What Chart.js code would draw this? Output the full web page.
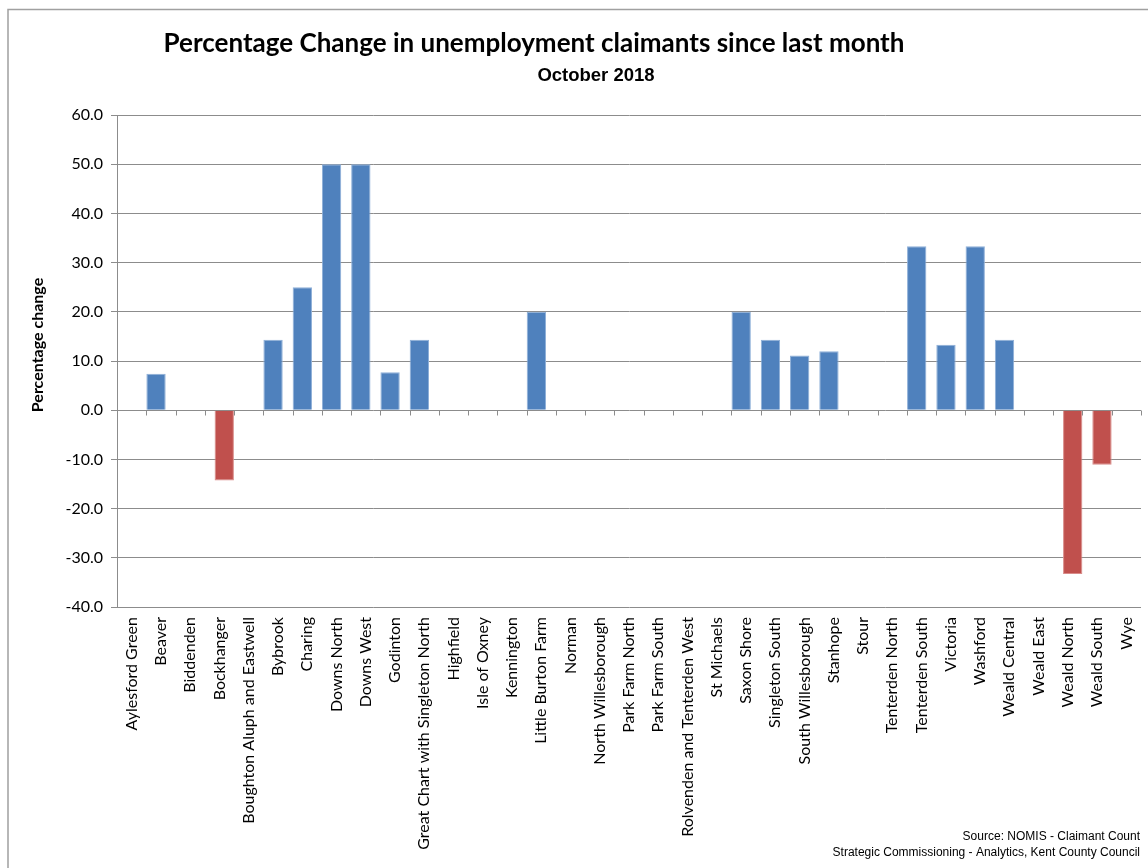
<!DOCTYPE html>
<html>
<head>
<meta charset="utf-8">
<script src="https://cdn.jsdelivr.net/npm/chart.js@4.4.0/dist/chart.umd.min.js"></script>
<style>
  html, body { margin: 0; padding: 0; background: #fff; }
  #wrap { width: 1148px; height: 868px; position: relative; }
</style>
</head>
<body>
<div id="wrap"><canvas id="chart" width="1148" height="868"></canvas></div>
<script>
// wards, October 2018
const wards = [
    'Aylesford Green', 'Beaver', 'Biddenden', 'Bockhanger', 'Boughton Aluph and Eastwell',
    'Bybrook', 'Charing', 'Downs North', 'Downs West', 'Godinton',
    'Great Chart with Singleton North', 'Highfield', 'Isle of Oxney', 'Kennington', 'Little Burton Farm',
    'Norman', 'North Willesborough', 'Park Farm North', 'Park Farm South', 'Rolvenden and Tenterden West',
    'St Michaels', 'Saxon Shore', 'Singleton South', 'South Willesborough', 'Stanhope',
    'Stour', 'Tenterden North', 'Tenterden South', 'Victoria', 'Washford',
    'Weald Central', 'Weald East', 'Weald North', 'Weald South', 'Wye'
];
// two series like the original sheet: rises and falls
const increase = [
    0, 7.4, 0, 0, 0,
    14.3, 25.0, 50.0, 50.0, 7.7,
    14.3, 0, 0, 0, 20.0,
    0, 0, 0, 0, 0,
    0, 20.0, 14.3, 11.1, 12.0,
    0, 0, 33.3, 13.3, 33.3,
    14.3, 0, 0, 0, 0
];
const decrease = [
    0, 0, 0, -14.3, 0,
    0, 0, 0, 0, 0,
    0, 0, 0, 0, 0,
    0, 0, 0, 0, 0,
    0, 0, 0, 0, 0,
    0, 0, 0, 0, 0,
    0, 0, -33.3, -11.1, 0
];
const yTicks = [-40, -30, -20, -10, 0, 10, 20, 30, 40, 50, 60];

const titleText = 'Percentage Change in unemployment claimants since last month';
const subTitleText = 'October 2018';
const yTitleText = 'Percentage change';
const sourceLines = ['Source: NOMIS - Claimant Count', 'Strategic Commissioning - Analytics, Kent County Council'];

const BLUE = '#4F81BD', RED = '#C0504D';
const GRID = '#8c8c8c';
const FONT = 'Lato, "Open Sans", sans-serif';

let decor = {
    id: 'decor',
    beforeDraw(chart){
        let ctx = chart.ctx;
        ctx.save();
        ctx.fillStyle = '#fff';
        ctx.fillRect(0, 0, chart.width, chart.height);
        ctx.strokeStyle = '#a0a0a0';
        ctx.lineWidth = 1.5;
        ctx.strokeRect(8, 9.5, chart.width + 20, chart.height + 20);
        ctx.restore();
    },
    afterDatasetsDraw(chart){
        // small tick marks along the zero line at category boundaries
        let ctx = chart.ctx;
        let x = chart.scales.x, y = chart.scales.y;
        let y0 = Math.round(y.getPixelForValue(0)) + 0.5;
        let step = x.width / wards.length;
        ctx.save();
        ctx.strokeStyle = GRID;
        ctx.lineWidth = 1;
        ctx.beginPath();
        for(let i = 0; i <= wards.length; i++){
            let px = Math.round(x.left + i*step) + 0.5;
            ctx.moveTo(px, y0);
            ctx.lineTo(px, y0 + 5);
        }
        ctx.stroke();
        ctx.restore();
    },
    afterDraw(chart){
        let ctx = chart.ctx;
        ctx.save();
        ctx.fillStyle = '#000';
        ctx.textAlign = 'center';
        ctx.textBaseline = 'alphabetic';
        ctx.font = 'bold 26px ' + FONT;
        ctx.fillText(titleText, 534, 52);
        ctx.font = 'bold 18.5px "Liberation Sans", Arial, sans-serif';
        ctx.fillText(subTitleText, 596, 81);

        ctx.save();
        ctx.translate(43, 345);
        ctx.rotate(-Math.PI/2);
        ctx.font = 'bold 16px ' + FONT;
        ctx.fillText(yTitleText, 0, 0);
        ctx.restore();

        ctx.textAlign = 'right';
        ctx.font = '12px "Liberation Sans", Arial, sans-serif';
        ctx.fillText(sourceLines[0], 1140, 840);
        ctx.fillText(sourceLines[1], 1140, 856);
        ctx.restore();
    }
};

const edge = (colour) => (c) => c.raw === 0 ? 0 : 1;

new Chart(document.getElementById('chart'), {
    type: 'bar',
    data: {
        labels: wards,
        datasets: [{
            label: 'Increase',
            data: increase,
            backgroundColor: BLUE,
            borderColor: '#8fb0d8',
            borderWidth: edge(),
            categoryPercentage: 0.664,
            barPercentage: 1.99
        }, {
            label: 'Decrease',
            data: decrease,
            backgroundColor: RED,
            borderColor: '#d98c8a',
            borderWidth: edge(),
            categoryPercentage: 0.664,
            barPercentage: 1.99
        }]
    },
    options: {
        responsive: false,
        animation: false,
        layout: { padding: { left: 23, right: 7, top: 115, bottom: 0 } },
        plugins: {
            legend: { display: false },
            tooltip: { enabled: false }
        },
        scales: {
            x: {
                grid: { display: false, drawTicks: false },
                border: { display: false },
                ticks: {
                    autoSkip: false,
                    maxRotation: 90, minRotation: 90,
                    padding: 10,
                    color: '#000',
                    font: { family: FONT, size: 16 }
                },
                afterFit(scale){
                    scale.height = 261;
                    scale.paddingLeft = 0;
                    scale.paddingRight = 0;
                }
            },
            y: {
                min: -40, max: 60,
                afterBuildTicks(scale){ scale.ticks = yTicks.map(v => ({ value: v })); },
                grid: { color: GRID, tickLength: 6, lineWidth: 1 },
                border: { display: true, color: GRID },
                ticks: {
                    padding: 8,
                    color: '#000',
                    font: { family: FONT, size: 16 },
                    callback: v => v.toFixed(1)
                },
                afterFit(scale){ scale.width = 94; }
            }
        }
    },
    plugins: [decor]
});
</script>
</body>
</html>
